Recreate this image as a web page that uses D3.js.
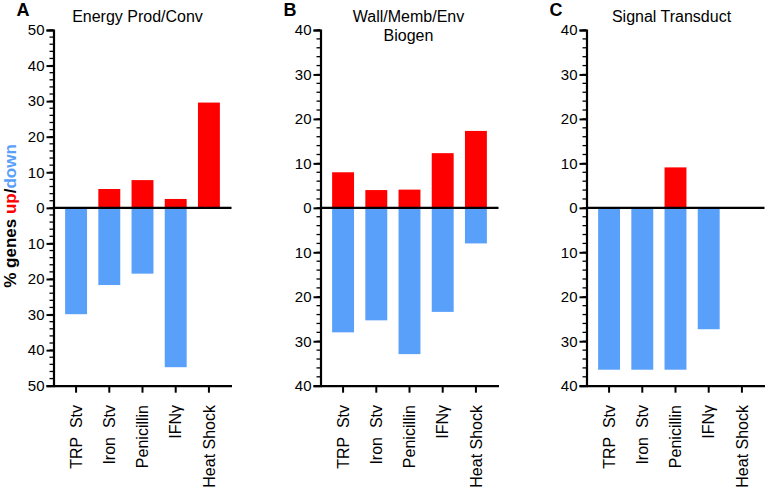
<!DOCTYPE html>
<html>
<head>
<meta charset="utf-8">
<script src="https://cdn.jsdelivr.net/npm/d3@7"></script>
<style>
  body { margin: 0; background: #fff; }
  text { font-family: Arial, "Liberation Sans", sans-serif; fill: #000; }
</style>
</head>
<body>
<div id="chart"></div>
<script>
// categories and values (% of genes up / down)
const categories = ["TRP  Stv", "Iron  Stv", "Penicillin", "IFN\u03b3", "Heat Shock"];
const energyUp = [0, 5.3, 7.8, 2.5, 29.6];
const energyDown = [29.9, 21.7, 18.5, 44.8, 0];
const wallUp = [8.0, 4.0, 4.1, 12.3, 17.3];
const wallDown = [28.0, 25.3, 32.9, 23.4, 8.0];
const signalUp = [0, 0, 9.1, 0, 0];
const signalDown = [36.4, 36.4, 36.4, 27.3, 0];
const panelLetters = ["A", "B", "C"];
const panelTitles = [["Energy Prod/Conv"], ["Wall/Memb/Env", "Biogen"], ["Signal Transduct"]];
const axisMax = [50, 40, 40];

const upColor = "#ff0000";
const downColor = "#58a0fa";

const width = 766;
const height = 491;

const svg = d3.select("#chart")
  .append("svg")
    .attr("width", width)
    .attr("height", height);

// panel layout
const panels = [
  { left: 53.5, titleX: 84, up: energyUp, down: energyDown },
  { left: 320.5, titleX: 88, up: wallUp, down: wallDown },
  { left: 586.5, titleX: 85, up: signalUp, down: signalDown }
];
const plotW = 178;
const plotTop = 30, plotBottom = 385.7;

panels.forEach(function(p, i) {
  const g = svg.append("g").attr("transform", `translate(${p.left},0)`);

  const x = d3.scaleBand()
    .domain(categories)
    .range([0, plotW])
    .paddingInner(0.34)
    .paddingOuter(0.35);

  const y = d3.scaleLinear()
    .domain([-axisMax[i], axisMax[i]])
    .range([plotBottom, plotTop]);

  // up bars
  g.selectAll(".up")
    .data(categories.map((c, j) => ({ c: c, v: p.up[j] })).filter(d => d.v > 0))
    .join("rect")
      .attr("x", d => x(d.c))
      .attr("width", x.bandwidth())
      .attr("y", d => y(d.v))
      .attr("height", d => y(0) - y(d.v))
      .attr("fill", upColor);

  // down bars
  g.selectAll(".down")
    .data(categories.map((c, j) => ({ c: c, v: p.down[j] })).filter(d => d.v > 0))
    .join("rect")
      .attr("x", d => x(d.c))
      .attr("width", x.bandwidth())
      .attr("y", y(0))
      .attr("height", d => y(-d.v) - y(0))
      .attr("fill", downColor);

  // minor ticks every 2
  const minor = d3.range(-axisMax[i], axisMax[i] + 1, 2);
  g.selectAll(".minor")
    .data(minor)
    .join("line")
      .attr("x1", -4).attr("x2", 0)
      .attr("y1", d => y(d)).attr("y2", d => y(d))
      .attr("stroke", "#000")
      .attr("stroke-width", 1.3);

  // y axis
  const yAxis = d3.axisLeft(y)
    .tickValues(d3.range(-axisMax[i], axisMax[i] + 1, 10))
    .tickFormat(d => Math.abs(d))
    .tickSize(7)
    .tickPadding(2);
  const ya = g.append("g").call(yAxis);
  ya.select(".domain").attr("stroke-width", 2.2);
  ya.selectAll(".tick line").attr("stroke-width", 2);
  ya.selectAll(".tick text").style("font-size", "15px").attr("fill", "#000");

  // zero line
  g.append("line")
    .attr("x1", 0).attr("x2", plotW)
    .attr("y1", y(0)).attr("y2", y(0))
    .attr("stroke", "#000")
    .attr("stroke-width", 2.2);

  // bottom axis
  const xAxis = d3.axisBottom(x).tickSize(7).tickSizeOuter(0).tickFormat("");
  const xa = g.append("g")
    .attr("transform", `translate(0,${plotBottom})`)
    .call(xAxis);
  xa.select(".domain").attr("stroke-width", 2.2);
  xa.selectAll(".tick line").attr("stroke-width", 2);

  // category labels
  g.selectAll(".cat")
    .data(categories)
    .join("text")
      .attr("transform", d => `translate(${x(d) + x.bandwidth() / 2},405) rotate(-90)`)
      .attr("dy", "0.36em")
      .attr("text-anchor", "end")
      .style("font-size", "16px")
      .style("white-space", "pre")
      .text(d => d);

  // title
  const t = g.append("text")
    .attr("x", p.titleX)
    .attr("y", 22)
    .attr("text-anchor", "middle")
    .style("font-size", "16px");
  panelTitles[i].forEach(function(line, k) {
    t.append("tspan")
      .attr("x", p.titleX)
      .attr("dy", k === 0 ? 0 : 18.5)
      .text(line);
  });

  // panel letter
  g.append("text")
    .attr("x", -37)
    .attr("y", 15.5)
    .style("font-size", "18px")
    .style("font-weight", "bold")
    .text(panelLetters[i]);
});

// y axis label
const yl = svg.append("text")
  .attr("transform", "translate(15.5,216) rotate(-90)")
  .attr("text-anchor", "middle")
  .style("font-size", "17px")
  .style("font-weight", "bold");
yl.append("tspan").text("% genes ");
yl.append("tspan").attr("fill", upColor).style("fill", upColor).text("up");
yl.append("tspan").text("/");
yl.append("tspan").attr("fill", downColor).style("fill", downColor).text("down");
</script>
</body>
</html>
